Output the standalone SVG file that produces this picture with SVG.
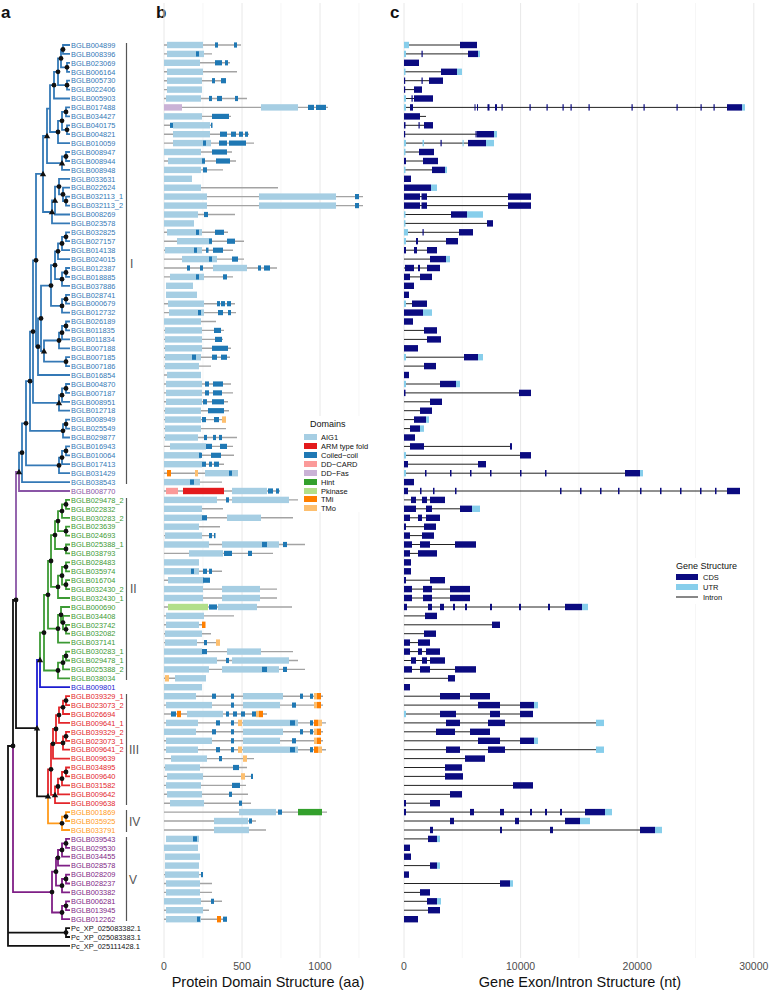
<svg xmlns="http://www.w3.org/2000/svg" xmlns:xlink="http://www.w3.org/1999/xlink" width="770" height="994" viewBox="0 0 770 994">
<style>
text{font-family:"Liberation Sans",Arial,sans-serif}
.t{fill:none;stroke-width:1.8}
.kI{stroke:#3479b6}.kII{stroke:#3c9a34}.kIII{stroke:#e3262b}.kIV{stroke:#ff9a1a}.kV{stroke:#7f1f86}.kP{stroke:#8a55a6}.kB{stroke:#1c1cd0}.kK{stroke:#111}
.lb{font-size:7.4px}
.fI{fill:#3479b6}.fII{fill:#3c9a34}.fIII{fill:#e3262b}.fIV{fill:#ff9a1a}.fV{fill:#7f1f86}.fP{fill:#8a55a6}.fB{fill:#1c1cd0}.fK{fill:#111}
.gb{stroke:#555;stroke-width:1.2}
.gl{font-size:12px;fill:#555}
.gm{stroke:#e8e8e8;stroke-width:1}
.gn{stroke:#f2f2f2;stroke-width:0.7}
.pl{stroke:#a3a3a3;stroke-width:1.4;fill:none}
.a{fill:#a6cee3}.r{fill:#e31a1c}.c{fill:#1f78b4}.dc{fill:#fb9a99}.df{fill:#cab2d6}.h{fill:#33a02c}.pk{fill:#b2df8a}.ti{fill:#ff7f00}.to{fill:#fdbf6f}
.in{stroke:#222;stroke-width:1;fill:none}
.cd{fill:#0b0b80}.ut{fill:#87ceeb}
.tk{font-size:10.5px;fill:#4d4d4d}
.ax{font-size:14.5px;fill:#111}
.pn{font-size:17px;font-weight:bold;fill:#111}
.lt{font-size:9px;fill:#111}
.li{font-size:7.5px;fill:#111}
</style>
<defs>
<circle id="o" r="2.4" fill="#111"/>
<polygon id="v" points="0,-3.2 3.2,2.3 -3.2,2.3" fill="#111"/>
</defs>
<rect width="770" height="994" fill="#fff"/>
<text class="pn" x="1" y="18">a</text>
<text class="pn" x="156" y="18">b</text>
<text class="pn" x="390" y="18">c</text>

<g id="grid">
<path class="gn" d="M203 3V958M281 3V958M359 3V958M462.3 3V958M578.9 3V958M695.5 3V958"/>
<path class="gm" d="M164 3V958M242 3V958M320 3V958M404 3V958M520.6 3V958M637.2 3V958M753.8 3V958"/>
</g>

<g id="connectors">
<path class="t kI" d="M70 45H63V53.9H70M70 62.8H67V71.8H70M63 49.5H61V67.3H67M70 80.7H67V89.6H70M61 58.4H58V85.2H67M58 71.8H54V98.5H70M70 107.4H66V116.4H70M70 125.3H67V134.2H70M66 111.9H62V129.8H67M62 120.8H58V143.1H70M54 85.2H50V132H58M70 152H66V161H70M66 156.5H62V169.9H70M50 108.6H47V163.2H62M70 196.6H66V205.6H70M70 187.7H63V201.1H66M70 178.8H59V194.4H63M59 186.6H55V214.5H70M55 200.5H52V223.4H70M47 135.9H43V212H52M70 232.3H66V241.2H70M66 236.8H62V250.2H70M62 243.5H58V259.1H70M70 268H66V276.9H70M66 272.5H62V285.8H70M58 251.3H55V279.2H62M70 294.8H66V303.7H70M66 299.2H62V312.6H70M55 265.2H51V305.9H62M70 321.5H66V330.4H70M66 326H62V339.4H70M62 332.7H59V348.3H70M70 357.2H66V366.1H70M59 340.5H44V361.7H66M51 285.6H41V351.1H44M41 318.4H38V375H70M43 173.9H36V346.7H38M70 384H66V392.9H70M66 388.4H62V401.8H70M62 395.2H59V410.7H70M36 260.3H33V402.9H59M70 419.6H66V428.6H70M66 424.1H63V437.5H70M33 331.6H30V430.8H63M70 446.4H66V455.3H70M66 450.9H62V464.2H70M62 457.6H59V473.2H70M30 381.2H26V465.4H59M26 423.3H22V482.1H70M22 452.7H19V471.9"/>
<path class="t kP" d="M19 471.9V491H70M16 600V471.9H19"/>
<path class="t kII" d="M70 499.9H66V508.8H70M66 504.4H62V517.8H70M70 526.7H66V535.6H70M62 511.1H58V531.2H66M70 544.5H66V553.4H70M58 521.1H55V549H66M70 562.4H66V571.3H70M70 580.2H66V589.1H70M66 566.8H62V584.7H66M62 575.7H58V598H70M55 535.1H51V586.9H58M70 624.8H66V633.7H70M70 615.9H63V629.3H66M70 607H61V622.6H63M61 614.8H58V642.6H70M51 561H48V628.7H58M70 651.6H66V660.5H70M66 656H63V669.4H70M63 662.7H58V678.3H70M48 594.8H44V670.5H58M44 632.7H40V660"/>
<path class="t kB" d="M40 660V687.2H70M40 660H37V728.1"/>
<path class="t kIII" d="M70 696.2H66V705.1H70M66 700.6H63V714H70M63 707.3H59V722.9H70M70 731.8H66V740.8H70M66 736.3H63V749.7H70M59 715.1H56V743H63M56 729H53V758.6H70M70 767.5H66V776.4H70M66 772H62V785.4H70M62 778.7H58V794.3H70M58 786.5H55V803.2H70M53 743.8H51V794.9H55M51 769.3H48V796.3"/>
<path class="t kIV" d="M48 796.3V823.3H62M70 812.1H66V821H70M66 816.6H62V830H70"/>
<path class="t kV" d="M70 838.9H66V847.8H70M66 843.4H62V856.7H70M62 850H58V865.6H70M70 874.6H66V883.5H70M66 879H62V892.4H70M58 857.8H56V885.7H62M70 901.3H66V910.2H70M66 905.8H62V919.2H70M56 871.7H52V912.5H62M13 746V892.1H52"/>
<path class="t kK" d="M16 600V728.1H37M37 728.1V796.3H48M16 600H13V746M13 746H8V945.9H70M8 932.6H66M70 928.1H66V937H70"/>
</g>

<g id="nodes">
<use href="#o" x="63" y="49.5"/><use href="#o" x="67" y="67.3"/><use href="#o" x="61" y="58.4"/><use href="#o" x="67" y="85.2"/><use href="#o" x="58" y="71.8"/><use href="#o" x="54" y="85.2"/><use href="#o" x="66" y="111.9"/><use href="#o" x="67" y="129.8"/><use href="#o" x="62" y="120.8"/><use href="#o" x="58" y="132"/><use href="#o" x="66" y="156.5"/><use href="#v" x="62" y="163.2"/><use href="#v" x="47" y="135.9"/><use href="#o" x="66" y="201.1"/><use href="#o" x="63" y="194.4"/><use href="#o" x="59" y="186.6"/><use href="#v" x="55" y="200.5"/><use href="#v" x="52" y="212"/><use href="#v" x="43" y="173.9"/>
<use href="#o" x="66" y="236.8"/><use href="#o" x="62" y="243.5"/><use href="#o" x="58" y="251.3"/><use href="#o" x="66" y="272.5"/><use href="#o" x="62" y="279.2"/><use href="#o" x="55" y="265.2"/><use href="#o" x="66" y="299.2"/><use href="#o" x="62" y="305.9"/><use href="#o" x="51" y="285.6"/><use href="#o" x="66" y="326"/><use href="#o" x="62" y="332.7"/><use href="#o" x="59" y="340.5"/><use href="#o" x="66" y="361.7"/><use href="#v" x="44" y="351.1"/><use href="#o" x="41" y="318.4"/><use href="#o" x="38" y="346.7"/><use href="#o" x="36" y="260.3"/><use href="#o" x="66" y="388.4"/><use href="#o" x="62" y="395.2"/><use href="#v" x="59" y="402.9"/><use href="#o" x="33" y="331.6"/><use href="#o" x="66" y="424.1"/><use href="#o" x="63" y="430.8"/><use href="#o" x="30" y="381.2"/><use href="#o" x="66" y="450.9"/><use href="#o" x="62" y="457.6"/><use href="#o" x="59" y="465.4"/><use href="#o" x="26" y="423.3"/><use href="#o" x="22" y="452.7"/><use href="#v" x="19" y="471.9"/><use href="#o" x="16" y="600"/>
<use href="#o" x="66" y="504.4"/><use href="#o" x="62" y="511.1"/><use href="#o" x="66" y="531.2"/><use href="#o" x="58" y="521.1"/><use href="#o" x="66" y="549"/><use href="#o" x="55" y="535.1"/><use href="#o" x="66" y="566.8"/><use href="#o" x="66" y="584.7"/><use href="#o" x="62" y="575.7"/><use href="#o" x="58" y="586.9"/><use href="#o" x="51" y="561"/><use href="#o" x="66" y="629.3"/><use href="#o" x="63" y="622.6"/><use href="#o" x="61" y="614.8"/><use href="#o" x="58" y="628.7"/><use href="#o" x="48" y="594.8"/><use href="#o" x="66" y="656"/><use href="#o" x="63" y="662.7"/><use href="#o" x="58" y="670.5"/><use href="#o" x="44" y="632.7"/><use href="#v" x="40" y="660"/><use href="#v" x="37" y="728.1"/>
<use href="#o" x="66" y="700.6"/><use href="#o" x="63" y="707.3"/><use href="#o" x="59" y="715.1"/><use href="#o" x="66" y="736.3"/><use href="#o" x="63" y="743"/><use href="#o" x="56" y="729"/><use href="#o" x="53" y="743.8"/><use href="#o" x="66" y="772"/><use href="#o" x="62" y="778.7"/><use href="#o" x="58" y="786.5"/><use href="#v" x="55" y="794.9"/><use href="#o" x="51" y="769.3"/><use href="#v" x="48" y="796.3"/>
<use href="#o" x="66" y="816.6"/><use href="#o" x="62" y="823.3"/>
<use href="#o" x="66" y="843.4"/><use href="#o" x="62" y="850"/><use href="#o" x="58" y="857.8"/><use href="#o" x="66" y="879"/><use href="#o" x="62" y="885.7"/><use href="#o" x="56" y="871.7"/><use href="#o" x="66" y="905.8"/><use href="#o" x="62" y="912.5"/><use href="#o" x="52" y="892.1"/><use href="#o" x="13" y="746"/><use href="#o" x="66" y="932.6"/>
</g>

<g id="labels" class="lb">
<g class="fI">
<text x="71" y="47.7">BGLB004899</text><text x="71" y="56.6">BGLB008396</text><text x="71" y="65.5">BGLB023069</text><text x="71" y="74.5">BGLB006164</text><text x="71" y="83.4">BGLB005730</text><text x="71" y="92.3">BGLB022406</text><text x="71" y="101.2">BGLB005903</text><text x="71" y="110.1">BGLB017488</text><text x="71" y="119.1">BGLB034427</text><text x="71" y="128">BGLB040175</text><text x="71" y="136.9">BGLB004821</text><text x="71" y="145.8">BGLB010059</text><text x="71" y="154.7">BGLB008947</text><text x="71" y="163.7">BGLB008944</text><text x="71" y="172.6">BGLB008948</text><text x="71" y="181.5">BGLB033631</text><text x="71" y="190.4">BGLB022624</text><text x="71" y="199.3">BGLB032113_1</text><text x="71" y="208.3">BGLB032113_2</text><text x="71" y="217.2">BGLB008269</text><text x="71" y="226.1">BGLB023578</text><text x="71" y="235">BGLB032825</text><text x="71" y="243.9">BGLB027157</text><text x="71" y="252.9">BGLB014138</text><text x="71" y="261.8">BGLB024015</text><text x="71" y="270.7">BGLB012387</text><text x="71" y="279.6">BGLB018885</text><text x="71" y="288.5">BGLB037886</text><text x="71" y="297.5">BGLB028741</text><text x="71" y="306.4">BGLB000679</text><text x="71" y="315.3">BGLB012732</text><text x="71" y="324.2">BGLB026189</text><text x="71" y="333.1">BGLB011835</text><text x="71" y="342.1">BGLB011834</text><text x="71" y="351">BGLB007188</text><text x="71" y="359.9">BGLB007185</text><text x="71" y="368.8">BGLB007186</text><text x="71" y="377.7">BGLB016854</text><text x="71" y="386.7">BGLB004870</text><text x="71" y="395.6">BGLB007187</text><text x="71" y="404.5">BGLB008951</text><text x="71" y="413.4">BGLB012718</text><text x="71" y="422.3">BGLB008949</text><text x="71" y="431.3">BGLB025549</text><text x="71" y="440.2">BGLB029877</text><text x="71" y="449.1">BGLB016943</text><text x="71" y="458">BGLB010064</text><text x="71" y="466.9">BGLB017413</text><text x="71" y="475.9">BGLB031429</text><text x="71" y="484.8">BGLB038543</text>
</g>
<text class="fP" x="71" y="493.7">BGLB008770</text>
<g class="fII">
<text x="71" y="502.6">BGLB029478_2</text><text x="71" y="511.5">BGLB022832</text><text x="71" y="520.5">BGLB030283_2</text><text x="71" y="529.4">BGLB023639</text><text x="71" y="538.3">BGLB024693</text><text x="71" y="547.2">BGLB025388_1</text><text x="71" y="556.1">BGLB038793</text><text x="71" y="565.1">BGLB028483</text><text x="71" y="574">BGLB035974</text><text x="71" y="582.9">BGLB016704</text><text x="71" y="591.8">BGLB032430_2</text><text x="71" y="600.7">BGLB032430_1</text><text x="71" y="609.7">BGLB000690</text><text x="71" y="618.6">BGLB034408</text><text x="71" y="627.5">BGLB023742</text><text x="71" y="636.4">BGLB032082</text><text x="71" y="645.3">BGLB037141</text><text x="71" y="654.3">BGLB030283_1</text><text x="71" y="663.2">BGLB029478_1</text><text x="71" y="672.1">BGLB025388_2</text><text x="71" y="681">BGLB038034</text>
</g>
<text class="fB" x="71" y="689.9">BGLB009801</text>
<g class="fIII">
<text x="71" y="698.9">BGLB039329_1</text><text x="71" y="707.8">BGLB023073_2</text><text x="71" y="716.7">BGLB026694</text><text x="71" y="725.6">BGLB009641_1</text><text x="71" y="734.5">BGLB039329_2</text><text x="71" y="743.5">BGLB023073_1</text><text x="71" y="752.4">BGLB009641_2</text><text x="71" y="761.3">BGLB009639</text><text x="71" y="770.2">BGLB034895</text><text x="71" y="779.1">BGLB009640</text><text x="71" y="788.1">BGLB031582</text><text x="71" y="797">BGLB009642</text><text x="71" y="805.9">BGLB009638</text>
</g>
<g class="fIV">
<text x="71" y="814.8">BGLB001869</text><text x="71" y="823.7">BGLB035925</text><text x="71" y="832.7">BGLB033791</text>
</g>
<g class="fV">
<text x="71" y="841.6">BGLB039543</text><text x="71" y="850.5">BGLB029530</text><text x="71" y="859.4">BGLB034455</text><text x="71" y="868.3">BGLB028578</text><text x="71" y="877.3">BGLB028209</text><text x="71" y="886.2">BGLB028237</text><text x="71" y="895.1">BGLB003382</text><text x="71" y="904">BGLB006281</text><text x="71" y="912.9">BGLB013945</text><text x="71" y="921.9">BGLB012262</text>
</g>
<g class="fK">
<text x="71" y="930.8">Pc_XP_025083382.1</text><text x="71" y="939.7">Pc_XP_025083383.1</text><text x="71" y="948.6">Pc_XP_025111428.1</text>
</g>
</g>

<g id="groups">
<path class="gb" d="M126.5 43V484M126.5 498V680M126.5 694V805M126.5 810V832M126.5 837V921"/>
<text class="gl" x="130" y="268">I</text>
<text class="gl" x="130" y="593">II</text>
<text class="gl" x="129" y="754">III</text>
<text class="gl" x="129" y="826">IV</text>
<text class="gl" x="129" y="884">V</text>
</g>

<g id="domains">
<g transform="translate(0,45)"><path class="pl" d="M164 0H241"/><rect class="a" x="167" y="-3.2" width="36" height="6.4"/><rect class="c" x="215" y="-2.6" width="3" height="5.2"/><rect class="c" x="234" y="-2.6" width="3" height="5.2"/></g>
<g transform="translate(0,53.9)"><path class="pl" d="M164 0H212"/><rect class="a" x="167" y="-3.2" width="37" height="6.4"/><rect class="c" x="196" y="-2.6" width="3" height="5.2"/></g>
<g transform="translate(0,62.8)"><path class="pl" d="M164 0H230"/><rect class="a" x="164" y="-3.2" width="36" height="6.4"/><rect class="c" x="215" y="-2.6" width="7" height="5.2"/><rect class="c" x="225" y="-2.6" width="3" height="5.2"/></g>
<g transform="translate(0,71.8)"><path class="pl" d="M164 0H237"/><rect class="a" x="167" y="-3.2" width="36" height="6.4"/></g>
<g transform="translate(0,80.7)"><path class="pl" d="M164 0H226"/><rect class="a" x="167" y="-3.2" width="35" height="6.4"/><rect class="c" x="212" y="-2.6" width="3" height="5.2"/><rect class="c" x="221" y="-2.6" width="5" height="5.2"/></g>
<g transform="translate(0,89.6)"><path class="pl" d="M164 0H202"/><rect class="a" x="167" y="-3.2" width="35" height="6.4"/></g>
<g transform="translate(0,98.5)"><path class="pl" d="M164 0H247"/><rect class="a" x="166" y="-3.2" width="35" height="6.4"/><rect class="c" x="209" y="-2.6" width="3" height="5.2"/><rect class="c" x="217" y="-2.6" width="5" height="5.2"/><rect class="c" x="235" y="-2.6" width="3" height="5.2"/></g>
<g transform="translate(0,107.4)"><path class="pl" d="M164 0H328"/><rect class="df" x="164" y="-3.2" width="18" height="6.4"/><rect class="a" x="261" y="-3.2" width="37" height="6.4"/><rect class="c" x="308" y="-2.6" width="6" height="5.2"/><rect class="c" x="316" y="-2.6" width="10" height="5.2"/></g>
<g transform="translate(0,116.4)"><path class="pl" d="M164 0H231"/><rect class="a" x="164" y="-3.2" width="38" height="6.4"/><rect class="c" x="212" y="-2.6" width="17" height="5.2"/></g>
<g transform="translate(0,125.3)"><path class="pl" d="M164 0H212"/><rect class="c" x="170" y="-2.6" width="3" height="5.2"/><rect class="a" x="173" y="-3.2" width="37" height="6.4"/><rect class="c" x="211" y="-2.6" width="1.5" height="5.2"/></g>
<g transform="translate(0,134.2)"><path class="pl" d="M164 0H249"/><rect class="a" x="173" y="-3.2" width="37" height="6.4"/><rect class="c" x="220" y="-2.6" width="7" height="5.2"/><rect class="c" x="231" y="-2.6" width="5" height="5.2"/><rect class="c" x="239" y="-2.6" width="4" height="5.2"/><rect class="c" x="245" y="-2.6" width="3" height="5.2"/></g>
<g transform="translate(0,143.1)"><path class="pl" d="M164 0H254"/><rect class="a" x="173" y="-3.2" width="38" height="6.4"/><rect class="c" x="203" y="-2.6" width="3" height="5.2"/><rect class="c" x="219" y="-2.6" width="8" height="5.2"/><rect class="c" x="229" y="-2.6" width="17" height="5.2"/></g>
<g transform="translate(0,152)"><path class="pl" d="M164 0H232"/><rect class="a" x="164" y="-3.2" width="37" height="6.4"/><rect class="c" x="212" y="-2.6" width="15" height="5.2"/></g>
<g transform="translate(0,161)"><path class="pl" d="M164 0H236"/><rect class="a" x="168" y="-3.2" width="37" height="6.4"/><rect class="c" x="202" y="-2.6" width="3" height="5.2"/><rect class="c" x="216" y="-2.6" width="14" height="5.2"/></g>
<g transform="translate(0,169.9)"><path class="pl" d="M164 0H223"/><rect class="a" x="164" y="-3.2" width="37" height="6.4"/><rect class="c" x="203" y="-2.6" width="4" height="5.2"/></g>
<g transform="translate(0,178.8)"><rect class="a" x="164" y="-3.2" width="28" height="6.4"/></g>
<g transform="translate(0,187.7)"><path class="pl" d="M164 0H278"/><rect class="a" x="164" y="-3.2" width="37" height="6.4"/></g>
<g transform="translate(0,196.6)"><path class="pl" d="M164 0H363"/><rect class="a" x="164" y="-3.2" width="43" height="6.4"/><rect class="a" x="259" y="-3.2" width="77" height="6.4"/><rect class="c" x="355" y="-2.6" width="4" height="5.2"/></g>
<g transform="translate(0,205.6)"><path class="pl" d="M164 0H363"/><rect class="a" x="164" y="-3.2" width="43" height="6.4"/><rect class="a" x="259" y="-3.2" width="77" height="6.4"/><rect class="c" x="355" y="-2.6" width="4" height="5.2"/></g>
<g transform="translate(0,214.5)"><path class="pl" d="M164 0H235"/><rect class="a" x="164" y="-3.2" width="34" height="6.4"/><rect class="c" x="204" y="-2.6" width="4" height="5.2"/></g>
<g transform="translate(0,223.4)"><rect class="a" x="164" y="-3.2" width="30" height="6.4"/></g>
<g transform="translate(0,232.3)"><path class="pl" d="M164 0H228"/><rect class="a" x="167" y="-3.2" width="35" height="6.4"/><rect class="c" x="196" y="-2.6" width="3" height="5.2"/><rect class="c" x="215" y="-2.6" width="9" height="5.2"/></g>
<g transform="translate(0,241.2)"><path class="pl" d="M164 0H244"/><rect class="a" x="177" y="-3.2" width="35" height="6.4"/><rect class="c" x="209" y="-2.6" width="3" height="5.2"/><rect class="c" x="227" y="-2.6" width="8" height="5.2"/></g>
<g transform="translate(0,250.2)"><path class="pl" d="M164 0H233"/><rect class="a" x="165" y="-3.2" width="37" height="6.4"/><rect class="c" x="194" y="-2.6" width="3" height="5.2"/><rect class="c" x="206" y="-2.6" width="2.5" height="5.2"/><rect class="c" x="213" y="-2.6" width="10" height="5.2"/></g>
<g transform="translate(0,259.1)"><path class="pl" d="M164 0H244"/><rect class="a" x="182" y="-3.2" width="35" height="6.4"/><rect class="c" x="209" y="-2.6" width="3" height="5.2"/><rect class="c" x="232" y="-2.6" width="6" height="5.2"/></g>
<g transform="translate(0,268)"><path class="pl" d="M164 0H277"/><rect class="c" x="187" y="-2.6" width="3" height="5.2"/><rect class="c" x="200" y="-2.6" width="3" height="5.2"/><rect class="a" x="213" y="-3.2" width="34" height="6.4"/><rect class="c" x="258" y="-2.6" width="3" height="5.2"/><rect class="c" x="264" y="-2.6" width="6" height="5.2"/></g>
<g transform="translate(0,276.9)"><path class="pl" d="M164 0H233"/><rect class="a" x="170" y="-3.2" width="34" height="6.4"/><rect class="c" x="196" y="-2.6" width="3" height="5.2"/><rect class="c" x="223" y="-2.6" width="4" height="5.2"/></g>
<g transform="translate(0,285.8)"><rect class="a" x="166" y="-3.2" width="27" height="6.4"/></g>
<g transform="translate(0,294.8)"><rect class="a" x="166" y="-3.2" width="31" height="6.4"/></g>
<g transform="translate(0,303.7)"><path class="pl" d="M164 0H235"/><rect class="a" x="168" y="-3.2" width="36" height="6.4"/><rect class="c" x="217" y="-2.6" width="3" height="5.2"/><rect class="c" x="221" y="-2.6" width="4" height="5.2"/><rect class="c" x="227" y="-2.6" width="4" height="5.2"/></g>
<g transform="translate(0,312.6)"><path class="pl" d="M164 0H236"/><rect class="a" x="169" y="-3.2" width="35" height="6.4"/><rect class="c" x="198" y="-2.6" width="3" height="5.2"/><rect class="c" x="218" y="-2.6" width="5" height="5.2"/><rect class="c" x="228" y="-2.6" width="3" height="5.2"/></g>
<g transform="translate(0,321.5)"><path class="pl" d="M164 0H216"/><rect class="a" x="164" y="-3.2" width="37" height="6.4"/></g>
<g transform="translate(0,330.4)"><path class="pl" d="M164 0H224"/><rect class="a" x="165" y="-3.2" width="37" height="6.4"/><rect class="c" x="214" y="-2.6" width="7" height="5.2"/></g>
<g transform="translate(0,339.4)"><path class="pl" d="M164 0H223"/><rect class="a" x="165" y="-3.2" width="37" height="6.4"/><rect class="c" x="215" y="-2.6" width="7" height="5.2"/></g>
<g transform="translate(0,348.3)"><path class="pl" d="M164 0H231"/><rect class="a" x="165" y="-3.2" width="37" height="6.4"/><rect class="c" x="212" y="-2.6" width="16" height="5.2"/></g>
<g transform="translate(0,357.2)"><path class="pl" d="M164 0H230"/><rect class="a" x="165" y="-3.2" width="36" height="6.4"/><rect class="c" x="192" y="-2.6" width="4" height="5.2"/><rect class="c" x="212" y="-2.6" width="5" height="5.2"/><rect class="c" x="221" y="-2.6" width="6" height="5.2"/></g>
<g transform="translate(0,366.1)"><path class="pl" d="M164 0H211"/><rect class="a" x="165" y="-3.2" width="34" height="6.4"/></g>
<g transform="translate(0,375)"><path class="pl" d="M164 0H201"/><rect class="a" x="167" y="-3.2" width="34" height="6.4"/></g>
<g transform="translate(0,384)"><path class="pl" d="M164 0H231"/><rect class="a" x="166" y="-3.2" width="36" height="6.4"/><rect class="c" x="205" y="-2.6" width="4" height="5.2"/><rect class="c" x="213" y="-2.6" width="10" height="5.2"/></g>
<g transform="translate(0,392.9)"><path class="pl" d="M164 0H233"/><rect class="a" x="166" y="-3.2" width="36" height="6.4"/><rect class="c" x="205" y="-2.6" width="4" height="5.2"/><rect class="c" x="213" y="-2.6" width="9" height="5.2"/></g>
<g transform="translate(0,401.8)"><path class="pl" d="M164 0H228"/><rect class="a" x="166" y="-3.2" width="36" height="6.4"/><rect class="c" x="203" y="-2.6" width="4" height="5.2"/><rect class="c" x="212" y="-2.6" width="12" height="5.2"/></g>
<g transform="translate(0,410.7)"><path class="pl" d="M164 0H229"/><rect class="a" x="165" y="-3.2" width="36" height="6.4"/><rect class="c" x="208" y="-2.6" width="16" height="5.2"/></g>
<g transform="translate(0,419.6)"><path class="pl" d="M164 0H226"/><rect class="a" x="165" y="-3.2" width="36" height="6.4"/><rect class="c" x="202" y="-2.6" width="4" height="5.2"/><rect class="c" x="214" y="-2.6" width="5" height="5.2"/><rect class="to" x="222" y="-3.2" width="4" height="6.4"/></g>
<g transform="translate(0,428.6)"><path class="pl" d="M164 0H226"/><rect class="a" x="165" y="-3.2" width="36" height="6.4"/></g>
<g transform="translate(0,437.5)"><path class="pl" d="M164 0H237"/><rect class="a" x="165" y="-3.2" width="33" height="6.4"/><rect class="c" x="204" y="-2.6" width="3" height="5.2"/><rect class="c" x="213" y="-2.6" width="3" height="5.2"/><rect class="c" x="219" y="-2.6" width="3" height="5.2"/></g>
<g transform="translate(0,446.4)"><path class="pl" d="M164 0H233"/><rect class="a" x="170" y="-3.2" width="36" height="6.4"/><rect class="c" x="206" y="-2.6" width="6" height="5.2"/><rect class="c" x="220" y="-2.6" width="7" height="5.2"/></g>
<g transform="translate(0,455.3)"><path class="pl" d="M164 0H234"/><rect class="a" x="164" y="-3.2" width="37" height="6.4"/><rect class="c" x="199" y="-2.6" width="3" height="5.2"/><rect class="c" x="211" y="-2.6" width="10" height="5.2"/></g>
<g transform="translate(0,464.2)"><path class="pl" d="M164 0H224"/><rect class="a" x="164" y="-3.2" width="38" height="6.4"/><rect class="c" x="202" y="-2.6" width="4" height="5.2"/><rect class="c" x="209" y="-2.6" width="3" height="5.2"/><rect class="c" x="214" y="-2.6" width="5" height="5.2"/></g>
<g transform="translate(0,473.2)"><path class="pl" d="M164 0H238"/><rect class="ti" x="167" y="-3.2" width="4" height="6.4"/><rect class="to" x="195" y="-3.2" width="3" height="6.4"/><rect class="a" x="205" y="-3.2" width="33" height="6.4"/><rect class="c" x="229" y="-2.6" width="3" height="5.2"/></g>
<g transform="translate(0,482.1)"><path class="pl" d="M164 0H222"/><rect class="a" x="164" y="-3.2" width="36" height="6.4"/><rect class="c" x="190" y="-2.6" width="4" height="5.2"/></g>
<g transform="translate(0,491)"><path class="pl" d="M164 0H280"/><rect class="dc" x="166" y="-3.2" width="12" height="6.4"/><rect class="r" x="183" y="-3.2" width="41" height="6.4"/><rect class="a" x="232" y="-3.2" width="35" height="6.4"/><rect class="c" x="268" y="-2.6" width="5" height="5.2"/><rect class="c" x="276" y="-2.6" width="3" height="5.2"/></g>
<g transform="translate(0,499.9)"><path class="pl" d="M164 0H298"/><rect class="a" x="164" y="-3.2" width="53" height="6.4"/><rect class="c" x="226" y="-2.6" width="3" height="5.2"/><rect class="a" x="232" y="-3.2" width="57" height="6.4"/></g>
<g transform="translate(0,508.8)"><path class="pl" d="M164 0H223"/><rect class="a" x="164" y="-3.2" width="38" height="6.4"/></g>
<g transform="translate(0,517.8)"><path class="pl" d="M164 0H293"/><rect class="a" x="164" y="-3.2" width="38" height="6.4"/><rect class="c" x="202" y="-2.6" width="5" height="5.2"/><rect class="a" x="227" y="-3.2" width="34" height="6.4"/></g>
<g transform="translate(0,526.7)"><path class="pl" d="M164 0H220"/><rect class="a" x="164" y="-3.2" width="35" height="6.4"/></g>
<g transform="translate(0,535.6)"><path class="pl" d="M164 0H215"/><rect class="a" x="165" y="-3.2" width="37" height="6.4"/><rect class="c" x="209" y="-2.6" width="3" height="5.2"/><rect class="c" x="214" y="-2.6" width="1.5" height="5.2"/></g>
<g transform="translate(0,544.5)"><path class="pl" d="M164 0H305"/><rect class="a" x="164" y="-3.2" width="45" height="6.4"/><rect class="a" x="222" y="-3.2" width="57" height="6.4"/><rect class="c" x="262" y="-2.6" width="5" height="5.2"/><rect class="c" x="283" y="-2.6" width="4" height="5.2"/></g>
<g transform="translate(0,553.4)"><path class="pl" d="M164 0H273"/><rect class="a" x="189" y="-3.2" width="34" height="6.4"/><rect class="c" x="224" y="-2.6" width="8" height="5.2"/><rect class="c" x="248" y="-2.6" width="4" height="5.2"/></g>
<g transform="translate(0,562.4)"><rect class="a" x="164" y="-3.2" width="35" height="6.4"/></g>
<g transform="translate(0,571.3)"><path class="pl" d="M164 0H222"/><rect class="a" x="164" y="-3.2" width="35" height="6.4"/><rect class="c" x="191" y="-2.6" width="3" height="5.2"/><rect class="c" x="203" y="-2.6" width="4" height="5.2"/><rect class="c" x="209" y="-2.6" width="3" height="5.2"/></g>
<g transform="translate(0,580.2)"><path class="pl" d="M164 0H210"/><rect class="a" x="168" y="-3.2" width="36" height="6.4"/><rect class="c" x="203" y="-2.6" width="7" height="5.2"/></g>
<g transform="translate(0,589.1)"><path class="pl" d="M164 0H277"/><rect class="a" x="164" y="-3.2" width="39" height="6.4"/><rect class="a" x="222" y="-3.2" width="38" height="6.4"/></g>
<g transform="translate(0,598)"><path class="pl" d="M164 0H277"/><rect class="a" x="164" y="-3.2" width="39" height="6.4"/><rect class="a" x="222" y="-3.2" width="38" height="6.4"/></g>
<g transform="translate(0,607)"><path class="pl" d="M164 0H292"/><rect class="pk" x="168" y="-3.2" width="40" height="6.4"/><rect class="c" x="209" y="-2.6" width="8" height="5.2"/><rect class="a" x="218" y="-3.2" width="39" height="6.4"/></g>
<g transform="translate(0,615.9)"><path class="pl" d="M164 0H234"/><rect class="a" x="166" y="-3.2" width="38" height="6.4"/></g>
<g transform="translate(0,624.8)"><path class="pl" d="M164 0H205"/><rect class="a" x="166" y="-3.2" width="33" height="6.4"/><rect class="ti" x="202" y="-3.2" width="3.5" height="6.4"/></g>
<g transform="translate(0,633.7)"><path class="pl" d="M164 0H211"/><rect class="a" x="165" y="-3.2" width="37" height="6.4"/></g>
<g transform="translate(0,642.6)"><path class="pl" d="M164 0H220"/><rect class="a" x="165" y="-3.2" width="32" height="6.4"/><rect class="c" x="204" y="-2.6" width="3" height="5.2"/><rect class="to" x="216" y="-3.2" width="4" height="6.4"/></g>
<g transform="translate(0,651.6)"><path class="pl" d="M164 0H293"/><rect class="a" x="164" y="-3.2" width="38" height="6.4"/><rect class="c" x="202" y="-2.6" width="5" height="5.2"/><rect class="a" x="227" y="-3.2" width="34" height="6.4"/></g>
<g transform="translate(0,660.5)"><path class="pl" d="M164 0H298"/><rect class="a" x="164" y="-3.2" width="53" height="6.4"/><rect class="c" x="226" y="-2.6" width="3" height="5.2"/><rect class="a" x="232" y="-3.2" width="57" height="6.4"/></g>
<g transform="translate(0,669.4)"><path class="pl" d="M164 0H305"/><rect class="a" x="164" y="-3.2" width="45" height="6.4"/><rect class="a" x="222" y="-3.2" width="57" height="6.4"/><rect class="c" x="262" y="-2.6" width="5" height="5.2"/><rect class="c" x="283" y="-2.6" width="4" height="5.2"/></g>
<g transform="translate(0,678.3)"><path class="pl" d="M164 0H206"/><rect class="to" x="165" y="-3.2" width="4" height="6.4"/><rect class="a" x="175" y="-3.2" width="31" height="6.4"/></g>
<g transform="translate(0,687.2)"><rect class="a" x="164" y="-3.2" width="38" height="6.4"/></g>
<g transform="translate(0,696.2)"><path class="pl" d="M164 0H323"/><rect class="a" x="164" y="-3.2" width="32" height="6.4"/><rect class="c" x="212" y="-2.6" width="4" height="5.2"/><rect class="c" x="231" y="-2.6" width="3" height="5.2"/><rect class="a" x="243" y="-3.2" width="40" height="6.4"/><rect class="c" x="300" y="-2.6" width="3" height="5.2"/><rect class="c" x="310" y="-2.6" width="3" height="5.2"/><rect class="to" x="314" y="-3.2" width="3" height="6.4"/><rect class="ti" x="317" y="-3.2" width="4" height="6.4"/></g>
<g transform="translate(0,705.1)"><path class="pl" d="M164 0H323"/><rect class="a" x="166" y="-3.2" width="46" height="6.4"/><rect class="c" x="231" y="-2.6" width="3" height="5.2"/><rect class="a" x="243" y="-3.2" width="37" height="6.4"/><rect class="c" x="292" y="-2.6" width="4" height="5.2"/><rect class="to" x="314" y="-3.2" width="3" height="6.4"/><rect class="ti" x="317" y="-3.2" width="4" height="6.4"/></g>
<g transform="translate(0,714)"><path class="pl" d="M164 0H267"/><rect class="c" x="171" y="-2.6" width="5" height="5.2"/><rect class="ti" x="177" y="-3.2" width="4" height="6.4"/><rect class="a" x="187" y="-3.2" width="36" height="6.4"/><rect class="c" x="226" y="-2.6" width="3" height="5.2"/><rect class="c" x="233" y="-2.6" width="4" height="5.2"/><rect class="c" x="241" y="-2.6" width="4" height="5.2"/><rect class="c" x="252" y="-2.6" width="4" height="5.2"/><rect class="to" x="256" y="-3.2" width="3" height="6.4"/><rect class="ti" x="259" y="-3.2" width="4" height="6.4"/></g>
<g transform="translate(0,722.9)"><path class="pl" d="M164 0H326"/><rect class="a" x="166" y="-3.2" width="32" height="6.4"/><rect class="c" x="216" y="-2.6" width="4" height="5.2"/><rect class="c" x="231" y="-2.6" width="3" height="5.2"/><rect class="to" x="238" y="-3.2" width="4" height="6.4"/><rect class="a" x="243" y="-3.2" width="55" height="6.4"/><rect class="c" x="290" y="-2.6" width="5" height="5.2"/><rect class="c" x="310" y="-2.6" width="3" height="5.2"/><rect class="ti" x="314" y="-3.2" width="4" height="6.4"/><rect class="to" x="318" y="-3.2" width="4" height="6.4"/></g>
<g transform="translate(0,731.8)"><path class="pl" d="M164 0H323"/><rect class="a" x="164" y="-3.2" width="32" height="6.4"/><rect class="c" x="212" y="-2.6" width="4" height="5.2"/><rect class="c" x="231" y="-2.6" width="3" height="5.2"/><rect class="a" x="243" y="-3.2" width="40" height="6.4"/><rect class="c" x="300" y="-2.6" width="3" height="5.2"/><rect class="c" x="310" y="-2.6" width="3" height="5.2"/><rect class="to" x="314" y="-3.2" width="3" height="6.4"/><rect class="ti" x="317" y="-3.2" width="4" height="6.4"/></g>
<g transform="translate(0,740.8)"><path class="pl" d="M164 0H323"/><rect class="a" x="166" y="-3.2" width="46" height="6.4"/><rect class="c" x="231" y="-2.6" width="3" height="5.2"/><rect class="a" x="243" y="-3.2" width="37" height="6.4"/><rect class="c" x="292" y="-2.6" width="4" height="5.2"/><rect class="to" x="314" y="-3.2" width="3" height="6.4"/><rect class="ti" x="317" y="-3.2" width="4" height="6.4"/></g>
<g transform="translate(0,749.7)"><path class="pl" d="M164 0H326"/><rect class="a" x="166" y="-3.2" width="32" height="6.4"/><rect class="c" x="216" y="-2.6" width="4" height="5.2"/><rect class="c" x="231" y="-2.6" width="3" height="5.2"/><rect class="to" x="238" y="-3.2" width="4" height="6.4"/><rect class="a" x="243" y="-3.2" width="55" height="6.4"/><rect class="c" x="290" y="-2.6" width="5" height="5.2"/><rect class="c" x="310" y="-2.6" width="3" height="5.2"/><rect class="ti" x="314" y="-3.2" width="4" height="6.4"/><rect class="to" x="318" y="-3.2" width="4" height="6.4"/></g>
<g transform="translate(0,758.6)"><path class="pl" d="M164 0H254"/><rect class="a" x="171" y="-3.2" width="36" height="6.4"/><rect class="c" x="219" y="-2.6" width="3" height="5.2"/><rect class="to" x="243" y="-3.2" width="4" height="6.4"/></g>
<g transform="translate(0,767.5)"><path class="pl" d="M164 0H247"/><rect class="a" x="165" y="-3.2" width="35" height="6.4"/><rect class="c" x="233" y="-2.6" width="6" height="5.2"/></g>
<g transform="translate(0,776.4)"><path class="pl" d="M164 0H252"/><rect class="a" x="167" y="-3.2" width="36" height="6.4"/><rect class="to" x="241" y="-3.2" width="4" height="6.4"/><rect class="c" x="251" y="-2.6" width="2" height="5.2"/></g>
<g transform="translate(0,785.4)"><path class="pl" d="M164 0H246"/><rect class="a" x="166" y="-3.2" width="35" height="6.4"/><rect class="c" x="232" y="-2.6" width="8" height="5.2"/></g>
<g transform="translate(0,794.3)"><path class="pl" d="M164 0H248"/><rect class="a" x="167" y="-3.2" width="35" height="6.4"/><rect class="c" x="229" y="-2.6" width="3" height="5.2"/></g>
<g transform="translate(0,803.2)"><path class="pl" d="M164 0H251"/><rect class="a" x="170" y="-3.2" width="34" height="6.4"/><rect class="c" x="239" y="-2.6" width="3" height="5.2"/></g>
<g transform="translate(0,812.1)"><path class="pl" d="M164 0H327"/><rect class="a" x="239" y="-3.2" width="37" height="6.4"/><rect class="c" x="278" y="-2.6" width="4" height="5.2"/><rect class="h" x="298" y="-3.2" width="24" height="6.4"/></g>
<g transform="translate(0,821)"><path class="pl" d="M164 0H256"/><rect class="a" x="214" y="-3.2" width="34" height="6.4"/><rect class="c" x="249" y="-2.6" width="3" height="5.2"/></g>
<g transform="translate(0,830)"><path class="pl" d="M164 0H266"/><rect class="a" x="214" y="-3.2" width="35" height="6.4"/></g>
<g transform="translate(0,838.9)"><rect class="a" x="166" y="-3.2" width="33" height="6.4"/><rect class="c" x="193" y="-2.6" width="4" height="5.2"/></g>
<g transform="translate(0,847.8)"><rect class="a" x="164" y="-3.2" width="34" height="6.4"/></g>
<g transform="translate(0,856.7)"><rect class="a" x="165" y="-3.2" width="35" height="6.4"/></g>
<g transform="translate(0,865.6)"><rect class="a" x="165" y="-3.2" width="34" height="6.4"/></g>
<g transform="translate(0,874.6)"><path class="pl" d="M164 0H203"/><rect class="a" x="165" y="-3.2" width="34" height="6.4"/><rect class="c" x="201" y="-2.6" width="2" height="5.2"/></g>
<g transform="translate(0,883.5)"><path class="pl" d="M164 0H212"/><rect class="a" x="166" y="-3.2" width="34" height="6.4"/></g>
<g transform="translate(0,892.4)"><path class="pl" d="M164 0H212"/><rect class="a" x="166" y="-3.2" width="34" height="6.4"/></g>
<g transform="translate(0,901.3)"><path class="pl" d="M164 0H222"/><rect class="a" x="164" y="-3.2" width="37" height="6.4"/><rect class="c" x="211" y="-2.6" width="3" height="5.2"/></g>
<g transform="translate(0,910.2)"><path class="pl" d="M164 0H209"/><rect class="a" x="166" y="-3.2" width="37" height="6.4"/></g>
<g transform="translate(0,919.2)"><path class="pl" d="M164 0H227"/><rect class="a" x="166" y="-3.2" width="35" height="6.4"/><rect class="c" x="197" y="-2.6" width="3" height="5.2"/><rect class="ti" x="217" y="-3.2" width="4" height="6.4"/><rect class="c" x="223" y="-2.6" width="4" height="5.2"/></g>
</g>

<g id="domain-legend">
<rect x="300" y="416" width="80" height="96" fill="#fff"/>
<text class="lt" x="310" y="427">Domains</text>
<rect class="a" x="304" y="434" width="13" height="6"/><text class="li" x="321" y="439.5">AIG1</text>
<rect class="r" x="304" y="443" width="13" height="6"/><text class="li" x="321" y="448.5">ARM type fold</text>
<rect class="c" x="304" y="452" width="13" height="6"/><text class="li" x="321" y="457.5">Coiled−coil</text>
<rect class="dc" x="304" y="461" width="13" height="6"/><text class="li" x="321" y="466.5">DD−CARD</text>
<rect class="df" x="304" y="470" width="13" height="6"/><text class="li" x="321" y="475.5">DD−Fas</text>
<rect class="h" x="304" y="479" width="13" height="6"/><text class="li" x="321" y="484.5">Hint</text>
<rect class="pk" x="304" y="488" width="13" height="6"/><text class="li" x="321" y="493.5">Pkinase</text>
<rect class="ti" x="304" y="496" width="13" height="6"/><text class="li" x="321" y="501.5">TMi</text>
<rect class="to" x="304" y="505" width="13" height="6"/><text class="li" x="321" y="510.5">TMo</text>
</g>

<g id="genes">
<g transform="translate(0,45)"><path class="in" d="M404 0H477"/><rect class="ut" x="404" y="-3.2" width="5" height="6.4"/><rect class="cd" x="460" y="-3.2" width="17" height="6.4"/></g>
<g transform="translate(0,53.9)"><path class="in" d="M404 0H479"/><rect class="ut" x="404" y="-3.2" width="2" height="6.4"/><rect class="cd" x="421.5" y="-3.2" width="1.2" height="6.4"/><rect class="cd" x="468" y="-3.2" width="10" height="6.4"/><rect class="ut" x="478" y="-3.2" width="2" height="6.4"/></g>
<g transform="translate(0,62.8)"><rect class="cd" x="404" y="-3.2" width="15" height="6.4"/></g>
<g transform="translate(0,71.8)"><path class="in" d="M404 0H457"/><rect class="ut" x="404" y="-3.2" width="1.5" height="6.4"/><rect class="cd" x="441" y="-3.2" width="16" height="6.4"/><rect class="ut" x="457" y="-3.2" width="5" height="6.4"/></g>
<g transform="translate(0,80.7)"><path class="in" d="M404 0H443"/><rect class="cd" x="404" y="-3.2" width="1.2" height="6.4"/><rect class="cd" x="421.5" y="-3.2" width="1.2" height="6.4"/><rect class="cd" x="429" y="-3.2" width="14" height="6.4"/></g>
<g transform="translate(0,89.6)"><path class="in" d="M404 0H422"/><rect class="cd" x="404" y="-3.2" width="1.2" height="6.4"/><rect class="cd" x="414" y="-3.2" width="8" height="6.4"/></g>
<g transform="translate(0,98.5)"><path class="in" d="M404 0H433"/><rect class="ut" x="404" y="-3.2" width="2" height="6.4"/><rect class="cd" x="411.5" y="-3.2" width="1.2" height="6.4"/><rect class="cd" x="414" y="-3.2" width="19" height="6.4"/></g>
<g transform="translate(0,107.4)"><path class="in" d="M404 0H742"/><rect class="ut" x="404" y="-3.2" width="2" height="6.4"/><rect class="cd" x="410" y="-3.2" width="3" height="6.4"/><rect class="cd" x="474.5" y="-3.2" width="1" height="6.4"/><rect class="cd" x="477" y="-3.2" width="1" height="6.4"/><rect class="cd" x="487.5" y="-3.2" width="2" height="6.4"/><rect class="cd" x="495" y="-3.2" width="2" height="6.4"/><rect class="cd" x="501.5" y="-3.2" width="1.2" height="6.4"/><rect class="cd" x="529.5" y="-3.2" width="1.2" height="6.4"/><rect class="cd" x="546.5" y="-3.2" width="1.2" height="6.4"/><rect class="cd" x="562.5" y="-3.2" width="1.2" height="6.4"/><rect class="cd" x="570.5" y="-3.2" width="1.2" height="6.4"/><rect class="cd" x="588.5" y="-3.2" width="1.2" height="6.4"/><rect class="cd" x="631.5" y="-3.2" width="1.2" height="6.4"/><rect class="cd" x="643.5" y="-3.2" width="1.2" height="6.4"/><rect class="cd" x="676.5" y="-3.2" width="1.2" height="6.4"/><rect class="cd" x="700.5" y="-3.2" width="1.2" height="6.4"/><rect class="cd" x="713.5" y="-3.2" width="1.2" height="6.4"/><rect class="cd" x="727" y="-3.2" width="15" height="6.4"/><rect class="ut" x="742" y="-3.2" width="3" height="6.4"/></g>
<g transform="translate(0,116.4)"><path class="in" d="M404 0H426"/><rect class="cd" x="404" y="-3.2" width="16" height="6.4"/></g>
<g transform="translate(0,125.3)"><path class="in" d="M404 0H433"/><rect class="cd" x="404" y="-3.2" width="1.5" height="6.4"/><rect class="cd" x="418.5" y="-3.2" width="1.2" height="6.4"/><rect class="cd" x="424" y="-3.2" width="9" height="6.4"/></g>
<g transform="translate(0,134.2)"><path class="in" d="M404 0H494"/><rect class="cd" x="404" y="-3.2" width="1.2" height="6.4"/><rect class="cd" x="475.5" y="-3.2" width="1.2" height="6.4"/><rect class="cd" x="477" y="-3.2" width="17" height="6.4"/><rect class="ut" x="494" y="-3.2" width="3" height="6.4"/></g>
<g transform="translate(0,143.1)"><path class="in" d="M404 0H486"/><rect class="ut" x="404" y="-3.2" width="2" height="6.4"/><rect class="ut" x="422.5" y="-3.2" width="1.5" height="6.4"/><rect class="cd" x="440.5" y="-3.2" width="1.2" height="6.4"/><rect class="ut" x="462.5" y="-3.2" width="1.2" height="6.4"/><rect class="cd" x="468" y="-3.2" width="18" height="6.4"/><rect class="ut" x="486" y="-3.2" width="8" height="6.4"/></g>
<g transform="translate(0,152)"><path class="in" d="M404 0H434"/><rect class="ut" x="404" y="-3.2" width="1.5" height="6.4"/><rect class="cd" x="419" y="-3.2" width="15" height="6.4"/></g>
<g transform="translate(0,161)"><path class="in" d="M404 0H438"/><rect class="cd" x="404" y="-3.2" width="2" height="6.4"/><rect class="cd" x="423" y="-3.2" width="15" height="6.4"/></g>
<g transform="translate(0,169.9)"><path class="in" d="M404 0H445"/><rect class="ut" x="404" y="-3.2" width="1.5" height="6.4"/><rect class="cd" x="432" y="-3.2" width="13" height="6.4"/><rect class="ut" x="445" y="-3.2" width="2" height="6.4"/></g>
<g transform="translate(0,178.8)"><rect class="cd" x="404" y="-3.2" width="7" height="6.4"/></g>
<g transform="translate(0,187.7)"><rect class="cd" x="404" y="-3.2" width="27" height="6.4"/><rect class="ut" x="431" y="-3.2" width="6" height="6.4"/></g>
<g transform="translate(0,196.6)"><path class="in" d="M404 0H531"/><rect class="cd" x="404" y="-3.2" width="16" height="6.4"/><rect class="cd" x="421.5" y="-3.2" width="5.5" height="6.4"/><rect class="cd" x="508" y="-3.2" width="23" height="6.4"/></g>
<g transform="translate(0,205.6)"><path class="in" d="M404 0H531"/><rect class="cd" x="404" y="-3.2" width="16" height="6.4"/><rect class="cd" x="421.5" y="-3.2" width="5.5" height="6.4"/><rect class="cd" x="508" y="-3.2" width="23" height="6.4"/></g>
<g transform="translate(0,214.5)"><path class="in" d="M404 0H467"/><rect class="ut" x="404" y="-3.2" width="1.5" height="6.4"/><rect class="cd" x="451" y="-3.2" width="16" height="6.4"/><rect class="ut" x="467" y="-3.2" width="16" height="6.4"/></g>
<g transform="translate(0,223.4)"><path class="in" d="M404 0H493"/><rect class="ut" x="404" y="-3.2" width="1.5" height="6.4"/><rect class="cd" x="487" y="-3.2" width="6" height="6.4"/></g>
<g transform="translate(0,232.3)"><path class="in" d="M404 0H473"/><rect class="ut" x="404" y="-3.2" width="4" height="6.4"/><rect class="cd" x="422.5" y="-3.2" width="1.2" height="6.4"/><rect class="cd" x="459" y="-3.2" width="14" height="6.4"/></g>
<g transform="translate(0,241.2)"><path class="in" d="M404 0H458"/><rect class="ut" x="404" y="-3.2" width="2" height="6.4"/><rect class="cd" x="416" y="-3.2" width="2" height="6.4"/><rect class="cd" x="446" y="-3.2" width="12" height="6.4"/></g>
<g transform="translate(0,250.2)"><path class="in" d="M404 0H437"/><rect class="cd" x="404" y="-3.2" width="2" height="6.4"/><rect class="cd" x="414" y="-3.2" width="3" height="6.4"/><rect class="cd" x="427" y="-3.2" width="10" height="6.4"/></g>
<g transform="translate(0,259.1)"><path class="in" d="M404 0H446"/><rect class="cd" x="430" y="-3.2" width="16" height="6.4"/><rect class="ut" x="446" y="-3.2" width="4" height="6.4"/></g>
<g transform="translate(0,268)"><path class="in" d="M404 0H440"/><rect class="cd" x="405" y="-3.2" width="9" height="6.4"/><rect class="cd" x="418" y="-3.2" width="2" height="6.4"/><rect class="cd" x="427" y="-3.2" width="13" height="6.4"/></g>
<g transform="translate(0,276.9)"><path class="in" d="M404 0H432"/><rect class="cd" x="404" y="-3.2" width="6" height="6.4"/><rect class="cd" x="420" y="-3.2" width="12" height="6.4"/></g>
<g transform="translate(0,285.8)"><rect class="cd" x="404" y="-3.2" width="10" height="6.4"/></g>
<g transform="translate(0,294.8)"><rect class="cd" x="404" y="-3.2" width="5" height="6.4"/></g>
<g transform="translate(0,303.7)"><path class="in" d="M404 0H427"/><rect class="ut" x="404" y="-3.2" width="2" height="6.4"/><rect class="cd" x="412" y="-3.2" width="15" height="6.4"/></g>
<g transform="translate(0,312.6)"><rect class="cd" x="404" y="-3.2" width="19" height="6.4"/><rect class="ut" x="423" y="-3.2" width="9" height="6.4"/></g>
<g transform="translate(0,321.5)"><rect class="cd" x="404" y="-3.2" width="9" height="6.4"/></g>
<g transform="translate(0,330.4)"><path class="in" d="M404 0H437"/><rect class="cd" x="424" y="-3.2" width="13" height="6.4"/></g>
<g transform="translate(0,339.4)"><path class="in" d="M404 0H441"/><rect class="cd" x="427" y="-3.2" width="14" height="6.4"/></g>
<g transform="translate(0,348.3)"><rect class="cd" x="404" y="-3.2" width="14" height="6.4"/></g>
<g transform="translate(0,357.2)"><path class="in" d="M404 0H478"/><rect class="ut" x="404" y="-3.2" width="2" height="6.4"/><rect class="cd" x="464" y="-3.2" width="14" height="6.4"/><rect class="ut" x="478" y="-3.2" width="5" height="6.4"/></g>
<g transform="translate(0,366.1)"><path class="in" d="M404 0H436"/><rect class="cd" x="424" y="-3.2" width="12" height="6.4"/></g>
<g transform="translate(0,375)"><rect class="cd" x="404" y="-3.2" width="5" height="6.4"/></g>
<g transform="translate(0,384)"><path class="in" d="M404 0H456"/><rect class="ut" x="404" y="-3.2" width="2" height="6.4"/><rect class="cd" x="440" y="-3.2" width="16" height="6.4"/><rect class="ut" x="456" y="-3.2" width="4" height="6.4"/></g>
<g transform="translate(0,392.9)"><path class="in" d="M404 0H531"/><rect class="cd" x="404" y="-3.2" width="1.5" height="6.4"/><rect class="cd" x="519" y="-3.2" width="12" height="6.4"/></g>
<g transform="translate(0,401.8)"><path class="in" d="M404 0H442"/><rect class="cd" x="430" y="-3.2" width="12" height="6.4"/></g>
<g transform="translate(0,410.7)"><path class="in" d="M404 0H432"/><rect class="cd" x="420" y="-3.2" width="12" height="6.4"/></g>
<g transform="translate(0,419.6)"><path class="in" d="M404 0H426"/><rect class="cd" x="414" y="-3.2" width="12" height="6.4"/><rect class="ut" x="426" y="-3.2" width="3" height="6.4"/></g>
<g transform="translate(0,428.6)"><path class="in" d="M404 0H420"/><rect class="cd" x="410" y="-3.2" width="10" height="6.4"/><rect class="ut" x="420" y="-3.2" width="4" height="6.4"/></g>
<g transform="translate(0,437.5)"><rect class="cd" x="404" y="-3.2" width="11" height="6.4"/></g>
<g transform="translate(0,446.4)"><path class="in" d="M404 0H512"/><rect class="cd" x="410" y="-3.2" width="14" height="6.4"/><rect class="cd" x="510" y="-3.2" width="2" height="6.4"/></g>
<g transform="translate(0,455.3)"><path class="in" d="M404 0H531"/><rect class="ut" x="404" y="-3.2" width="2" height="6.4"/><rect class="cd" x="520" y="-3.2" width="11" height="6.4"/></g>
<g transform="translate(0,464.2)"><path class="in" d="M404 0H486"/><rect class="cd" x="404" y="-3.2" width="4" height="6.4"/><rect class="cd" x="478" y="-3.2" width="8" height="6.4"/></g>
<g transform="translate(0,473.2)"><path class="in" d="M404 0H640"/><rect class="ut" x="404" y="-3.2" width="2" height="6.4"/><rect class="cd" x="425" y="-3.2" width="1.5" height="6.4"/><rect class="cd" x="450" y="-3.2" width="1.5" height="6.4"/><rect class="cd" x="470" y="-3.2" width="1.5" height="6.4"/><rect class="cd" x="490" y="-3.2" width="1.5" height="6.4"/><rect class="cd" x="520" y="-3.2" width="1.5" height="6.4"/><rect class="cd" x="545" y="-3.2" width="1.5" height="6.4"/><rect class="cd" x="625" y="-3.2" width="15" height="6.4"/><rect class="ut" x="640" y="-3.2" width="3" height="6.4"/></g>
<g transform="translate(0,482.1)"><rect class="cd" x="404" y="-3.2" width="10" height="6.4"/></g>
<g transform="translate(0,491)"><path class="in" d="M404 0H740"/><rect class="cd" x="404" y="-3.2" width="4" height="6.4"/><rect class="cd" x="420" y="-3.2" width="1.5" height="6.4"/><rect class="cd" x="433" y="-3.2" width="1.5" height="6.4"/><rect class="cd" x="455" y="-3.2" width="1.5" height="6.4"/><rect class="cd" x="560" y="-3.2" width="1.5" height="6.4"/><rect class="cd" x="580" y="-3.2" width="1.5" height="6.4"/><rect class="cd" x="600" y="-3.2" width="1.5" height="6.4"/><rect class="cd" x="618" y="-3.2" width="1.5" height="6.4"/><rect class="cd" x="640" y="-3.2" width="1.5" height="6.4"/><rect class="cd" x="660" y="-3.2" width="1.5" height="6.4"/><rect class="cd" x="680" y="-3.2" width="1.5" height="6.4"/><rect class="cd" x="700" y="-3.2" width="1.5" height="6.4"/><rect class="cd" x="715" y="-3.2" width="1.5" height="6.4"/><rect class="cd" x="727" y="-3.2" width="13" height="6.4"/></g>
<g transform="translate(0,499.9)"><path class="in" d="M404 0H445"/><rect class="cd" x="411" y="-3.2" width="5" height="6.4"/><rect class="cd" x="422" y="-3.2" width="5" height="6.4"/><rect class="cd" x="430" y="-3.2" width="15" height="6.4"/></g>
<g transform="translate(0,508.8)"><path class="in" d="M404 0H472"/><rect class="cd" x="404" y="-3.2" width="12" height="6.4"/><rect class="cd" x="426" y="-3.2" width="6" height="6.4"/><rect class="cd" x="460" y="-3.2" width="12" height="6.4"/><rect class="ut" x="472" y="-3.2" width="8" height="6.4"/></g>
<g transform="translate(0,517.8)"><path class="in" d="M404 0H440"/><rect class="cd" x="404" y="-3.2" width="6" height="6.4"/><rect class="cd" x="418" y="-3.2" width="4" height="6.4"/><rect class="cd" x="426" y="-3.2" width="14" height="6.4"/></g>
<g transform="translate(0,526.7)"><path class="in" d="M404 0H436"/><rect class="cd" x="404" y="-3.2" width="2" height="6.4"/><rect class="cd" x="424" y="-3.2" width="12" height="6.4"/></g>
<g transform="translate(0,535.6)"><path class="in" d="M404 0H434"/><rect class="cd" x="404" y="-3.2" width="6" height="6.4"/><rect class="cd" x="422" y="-3.2" width="12" height="6.4"/></g>
<g transform="translate(0,544.5)"><path class="in" d="M404 0H476"/><rect class="cd" x="404" y="-3.2" width="8" height="6.4"/><rect class="cd" x="420" y="-3.2" width="10" height="6.4"/><rect class="cd" x="455" y="-3.2" width="21" height="6.4"/></g>
<g transform="translate(0,553.4)"><path class="in" d="M404 0H437"/><rect class="cd" x="404" y="-3.2" width="6" height="6.4"/><rect class="cd" x="418" y="-3.2" width="19" height="6.4"/></g>
<g transform="translate(0,562.4)"><rect class="cd" x="404" y="-3.2" width="7" height="6.4"/></g>
<g transform="translate(0,571.3)"><rect class="cd" x="404" y="-3.2" width="7" height="6.4"/></g>
<g transform="translate(0,580.2)"><path class="in" d="M404 0H445"/><rect class="cd" x="404" y="-3.2" width="2" height="6.4"/><rect class="cd" x="430" y="-3.2" width="15" height="6.4"/></g>
<g transform="translate(0,589.1)"><path class="in" d="M404 0H470"/><rect class="cd" x="404" y="-3.2" width="8" height="6.4"/><rect class="cd" x="423" y="-3.2" width="9" height="6.4"/><rect class="cd" x="450" y="-3.2" width="20" height="6.4"/></g>
<g transform="translate(0,598)"><path class="in" d="M404 0H470"/><rect class="cd" x="404" y="-3.2" width="8" height="6.4"/><rect class="cd" x="423" y="-3.2" width="9" height="6.4"/><rect class="cd" x="450" y="-3.2" width="20" height="6.4"/></g>
<g transform="translate(0,607)"><path class="in" d="M404 0H582"/><rect class="cd" x="404" y="-3.2" width="3" height="6.4"/><rect class="cd" x="428" y="-3.2" width="4" height="6.4"/><rect class="cd" x="440" y="-3.2" width="4" height="6.4"/><rect class="cd" x="453" y="-3.2" width="2" height="6.4"/><rect class="cd" x="465" y="-3.2" width="2" height="6.4"/><rect class="cd" x="490" y="-3.2" width="2" height="6.4"/><rect class="cd" x="519" y="-3.2" width="2" height="6.4"/><rect class="cd" x="548" y="-3.2" width="2" height="6.4"/><rect class="cd" x="565" y="-3.2" width="17" height="6.4"/><rect class="ut" x="582" y="-3.2" width="6" height="6.4"/></g>
<g transform="translate(0,615.9)"><path class="in" d="M404 0H437"/><rect class="cd" x="425" y="-3.2" width="12" height="6.4"/></g>
<g transform="translate(0,624.8)"><path class="in" d="M404 0H500"/><rect class="cd" x="492" y="-3.2" width="8" height="6.4"/></g>
<g transform="translate(0,633.7)"><path class="in" d="M404 0H436"/><rect class="cd" x="424" y="-3.2" width="12" height="6.4"/></g>
<g transform="translate(0,642.6)"><path class="in" d="M404 0H430"/><rect class="cd" x="404" y="-3.2" width="6" height="6.4"/><rect class="cd" x="418" y="-3.2" width="12" height="6.4"/></g>
<g transform="translate(0,651.6)"><path class="in" d="M404 0H440"/><rect class="cd" x="404" y="-3.2" width="6" height="6.4"/><rect class="cd" x="418" y="-3.2" width="4" height="6.4"/><rect class="cd" x="426" y="-3.2" width="14" height="6.4"/></g>
<g transform="translate(0,660.5)"><path class="in" d="M404 0H445"/><rect class="cd" x="411" y="-3.2" width="5" height="6.4"/><rect class="cd" x="422" y="-3.2" width="5" height="6.4"/><rect class="cd" x="430" y="-3.2" width="15" height="6.4"/></g>
<g transform="translate(0,669.4)"><path class="in" d="M404 0H476"/><rect class="cd" x="404" y="-3.2" width="8" height="6.4"/><rect class="cd" x="420" y="-3.2" width="10" height="6.4"/><rect class="cd" x="455" y="-3.2" width="21" height="6.4"/></g>
<g transform="translate(0,678.3)"><path class="in" d="M404 0H455"/><rect class="cd" x="448" y="-3.2" width="7" height="6.4"/></g>
<g transform="translate(0,687.2)"><rect class="cd" x="404" y="-3.2" width="6" height="6.4"/></g>
<g transform="translate(0,696.2)"><path class="in" d="M404 0H490"/><rect class="cd" x="440" y="-3.2" width="20" height="6.4"/><rect class="cd" x="470" y="-3.2" width="20" height="6.4"/></g>
<g transform="translate(0,705.1)"><path class="in" d="M404 0H534"/><rect class="cd" x="478" y="-3.2" width="22" height="6.4"/><rect class="cd" x="520" y="-3.2" width="14" height="6.4"/><rect class="ut" x="534" y="-3.2" width="4" height="6.4"/></g>
<g transform="translate(0,714)"><path class="in" d="M404 0H533"/><rect class="ut" x="404" y="-3.2" width="2" height="6.4"/><rect class="cd" x="440" y="-3.2" width="16" height="6.4"/><rect class="cd" x="490" y="-3.2" width="10" height="6.4"/><rect class="cd" x="520" y="-3.2" width="13" height="6.4"/></g>
<g transform="translate(0,722.9)"><path class="in" d="M404 0H596"/><rect class="cd" x="446" y="-3.2" width="14" height="6.4"/><rect class="cd" x="488" y="-3.2" width="17" height="6.4"/><rect class="ut" x="596" y="-3.2" width="8" height="6.4"/></g>
<g transform="translate(0,731.8)"><path class="in" d="M404 0H490"/><rect class="cd" x="436" y="-3.2" width="19" height="6.4"/><rect class="cd" x="470" y="-3.2" width="20" height="6.4"/></g>
<g transform="translate(0,740.8)"><path class="in" d="M404 0H534"/><rect class="cd" x="478" y="-3.2" width="22" height="6.4"/><rect class="cd" x="520" y="-3.2" width="14" height="6.4"/><rect class="ut" x="534" y="-3.2" width="4" height="6.4"/></g>
<g transform="translate(0,749.7)"><path class="in" d="M404 0H596"/><rect class="cd" x="446" y="-3.2" width="14" height="6.4"/><rect class="cd" x="488" y="-3.2" width="17" height="6.4"/><rect class="ut" x="596" y="-3.2" width="8" height="6.4"/></g>
<g transform="translate(0,758.6)"><path class="in" d="M404 0H485"/><rect class="cd" x="465" y="-3.2" width="20" height="6.4"/></g>
<g transform="translate(0,767.5)"><path class="in" d="M404 0H462"/><rect class="cd" x="445" y="-3.2" width="17" height="6.4"/></g>
<g transform="translate(0,776.4)"><path class="in" d="M404 0H463"/><rect class="cd" x="445" y="-3.2" width="18" height="6.4"/></g>
<g transform="translate(0,785.4)"><path class="in" d="M404 0H533"/><rect class="cd" x="513" y="-3.2" width="20" height="6.4"/></g>
<g transform="translate(0,794.3)"><path class="in" d="M404 0H462"/><rect class="cd" x="450" y="-3.2" width="12" height="6.4"/></g>
<g transform="translate(0,803.2)"><path class="in" d="M404 0H440"/><rect class="cd" x="404" y="-3.2" width="2" height="6.4"/><rect class="cd" x="430" y="-3.2" width="10" height="6.4"/></g>
<g transform="translate(0,812.1)"><path class="in" d="M404 0H605"/><rect class="cd" x="404" y="-3.2" width="2" height="6.4"/><rect class="cd" x="470" y="-3.2" width="4" height="6.4"/><rect class="cd" x="500" y="-3.2" width="4" height="6.4"/><rect class="cd" x="530" y="-3.2" width="2" height="6.4"/><rect class="cd" x="545" y="-3.2" width="2" height="6.4"/><rect class="cd" x="560" y="-3.2" width="2" height="6.4"/><rect class="cd" x="585" y="-3.2" width="20" height="6.4"/><rect class="ut" x="605" y="-3.2" width="7" height="6.4"/></g>
<g transform="translate(0,821)"><path class="in" d="M404 0H580"/><rect class="cd" x="450" y="-3.2" width="4" height="6.4"/><rect class="cd" x="515" y="-3.2" width="4" height="6.4"/><rect class="cd" x="565" y="-3.2" width="15" height="6.4"/><rect class="ut" x="580" y="-3.2" width="10" height="6.4"/></g>
<g transform="translate(0,830)"><path class="in" d="M404 0H655"/><rect class="cd" x="430" y="-3.2" width="3" height="6.4"/><rect class="cd" x="500" y="-3.2" width="2" height="6.4"/><rect class="cd" x="550" y="-3.2" width="3" height="6.4"/><rect class="cd" x="640" y="-3.2" width="15" height="6.4"/><rect class="ut" x="655" y="-3.2" width="7" height="6.4"/></g>
<g transform="translate(0,838.9)"><path class="in" d="M404 0H437"/><rect class="cd" x="428" y="-3.2" width="9" height="6.4"/><rect class="ut" x="437" y="-3.2" width="3" height="6.4"/></g>
<g transform="translate(0,847.8)"><rect class="cd" x="404" y="-3.2" width="6" height="6.4"/></g>
<g transform="translate(0,856.7)"><rect class="cd" x="404" y="-3.2" width="7" height="6.4"/></g>
<g transform="translate(0,865.6)"><path class="in" d="M404 0H437"/><rect class="cd" x="430" y="-3.2" width="7" height="6.4"/><rect class="ut" x="437" y="-3.2" width="3" height="6.4"/></g>
<g transform="translate(0,874.6)"><rect class="cd" x="404" y="-3.2" width="5" height="6.4"/></g>
<g transform="translate(0,883.5)"><path class="in" d="M404 0H510"/><rect class="cd" x="500" y="-3.2" width="10" height="6.4"/><rect class="ut" x="510" y="-3.2" width="3" height="6.4"/></g>
<g transform="translate(0,892.4)"><path class="in" d="M404 0H430"/><rect class="cd" x="420" y="-3.2" width="10" height="6.4"/></g>
<g transform="translate(0,901.3)"><path class="in" d="M404 0H437"/><rect class="cd" x="427" y="-3.2" width="10" height="6.4"/><rect class="ut" x="437" y="-3.2" width="4" height="6.4"/></g>
<g transform="translate(0,910.2)"><path class="in" d="M404 0H440"/><rect class="cd" x="428" y="-3.2" width="12" height="6.4"/></g>
<g transform="translate(0,919.2)"><rect class="cd" x="404" y="-3.2" width="14" height="6.4"/></g>
</g>

<g id="gene-legend">
<rect x="672" y="558" width="80" height="46" fill="#fff"/>
<text class="lt" x="676" y="569">Gene Structure</text>
<rect class="cd" x="676" y="574" width="22" height="6"/><text class="li" x="703" y="579.5">CDS</text>
<rect class="ut" x="676" y="584" width="22" height="6"/><text class="li" x="703" y="589.5">UTR</text>
<path d="M676 597H698" stroke="#111" stroke-width="1"/><text class="li" x="703" y="599.5">Intron</text>
</g>

<g id="axes">
<text class="tk" x="164" y="970" text-anchor="middle">0</text>
<text class="tk" x="242" y="970" text-anchor="middle">500</text>
<text class="tk" x="320" y="970" text-anchor="middle">1000</text>
<text class="tk" x="404" y="970" text-anchor="middle">0</text>
<text class="tk" x="520.6" y="970" text-anchor="middle">10000</text>
<text class="tk" x="637.2" y="970" text-anchor="middle">20000</text>
<text class="tk" x="753.8" y="970" text-anchor="middle">30000</text>
<text class="ax" x="268" y="987" text-anchor="middle">Protein Domain Structure (aa)</text>
<text class="ax" x="580" y="987" text-anchor="middle">Gene Exon/Intron Structure (nt)</text>
</g>
</svg>
